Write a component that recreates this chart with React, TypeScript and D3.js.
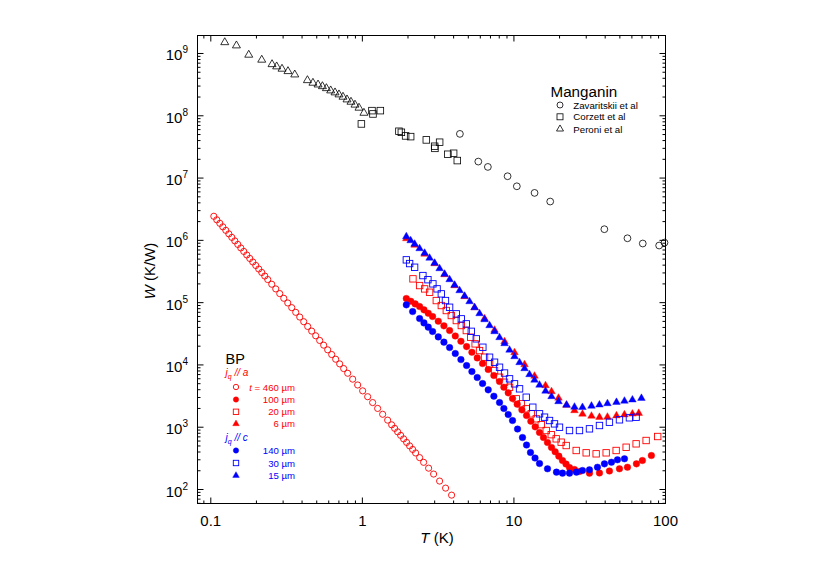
import React from "react";
import * as d3 from "d3";

const FONT = "'Liberation Sans', Arial, Helvetica, sans-serif";
const RED = "#ff0000";
const BLUE = "#0000ff";

// ---- axes ----
const xDomain = [0.0817, 100];
const yDomain = [59.6, 1.945e9];
const xTickValues = [0.1, 1, 10, 100];
const xTickLabels = ["0.1", "1", "10", "100"];
const yTickExponents = [2, 3, 4, 5, 6, 7, 8, 9];

// ---- Manganin ----
const zavT = [4.40, 5.82, 6.73, 9.08, 10.45, 13.68, 17.35, 39.5, 56.1, 70.8, 90.8, 98.5];
const zavW = [5.12e7, 1.84e7, 1.51e7, 1.07e7, 7.38e6, 5.78e6, 4.2e6, 1.51e6, 1.08e6, 8.9e5, 8.26e5, 9.2e5];

const corT = [0.985, 1.157, 1.175, 1.314, 1.743, 1.808, 1.929, 2.082, 2.642, 2.998, 3.01, 3.234, 3.667, 4.0, 4.23];
const corW = [7.4e7, 1.21e8, 1.07e8, 1.21e8, 5.64e7, 5.43e7, 4.75e7, 4.63e7, 4.1e7, 3.24e7, 3.0e7, 3.76e7, 2.41e7, 2.5e7, 1.91e7];

const perT = [0.1236, 0.1476, 0.178, 0.2168, 0.2535, 0.272, 0.295, 0.323, 0.358, 0.434, 0.472, 0.51, 0.545, 0.579, 0.618, 0.66, 0.701, 0.745, 0.792, 0.841, 0.894, 0.95, 1.024];
const perW = [1.51e9, 1.34e9, 9.5e8, 7.9e8, 6.7e8, 6.17e8, 5.66e8, 5.18e8, 4.58e8, 3.71e8, 3.37e8, 3.16e8, 2.97e8, 2.76e8, 2.54e8, 2.36e8, 2.19e8, 2.01e8, 1.82e8, 1.67e8, 1.5e8, 1.34e8, 1.11e8];

// ---- BP, jq // a ----
const a460T = [0.1047, 0.1095, 0.1147, 0.12, 0.1256, 0.1315, 0.1376, 0.144, 0.1507, 0.1577, 0.165, 0.1727, 0.1808, 0.1892, 0.198, 0.2072, 0.2169, 0.227, 0.2375, 0.2524, 0.2683, 0.285, 0.303, 0.3219, 0.342, 0.3634, 0.3862, 0.4103, 0.4358, 0.4631, 0.4921, 0.5229, 0.5556, 0.5904, 0.6275, 0.6668, 0.7085, 0.7528, 0.8001, 0.8631, 0.9312, 1.0046, 1.0837, 1.169, 1.261, 1.361, 1.468, 1.561, 1.633, 1.709, 1.789, 1.872, 1.959, 2.05, 2.146, 2.246, 2.386, 2.536, 2.736, 2.951, 3.233, 3.541, 3.879];
const a460W = [2.436e6, 2.139e6, 1.878e6, 1.65e6, 1.449e6, 1.272e6, 1.117e6, 9.81e5, 8.61e5, 7.56e5, 6.64e5, 5.83e5, 5.12e5, 4.5e5, 3.95e5, 3.47e5, 3.05e5, 2.675e5, 2.349e5, 1.975e5, 1.661e5, 1.397e5, 1.175e5, 9.88e4, 8.31e4, 6.99e4, 5.87e4, 4.94e4, 4.15e4, 3.493e4, 2.937e4, 2.47e4, 2.077e4, 1.747e4, 1.469e4, 1.235e4, 1.039e4, 8740, 7350, 5914, 4764, 3835, 3089, 2487, 2003, 1613, 1299, 1092, 959, 842, 740, 649, 570, 501, 440, 386, 325, 273, 220, 177, 136.6, 105.3, 81.2];

const a100T = [1.95, 2.086, 2.231, 2.386, 2.549, 2.721, 2.906, 3.168, 3.452, 3.763, 4.102, 4.469, 4.871, 5.281, 5.727, 6.209, 6.766, 7.373, 8.035, 8.582, 9.167, 9.79, 10.51, 11.28, 12.11, 12.93, 13.81, 14.75, 15.67, 16.65, 17.7, 18.71, 19.78, 20.91, 22.06, 23.26, 25.09, 27.07, 31.5, 36.67, 42.67, 49.69, 56.1, 64.3, 70.4, 80.7];
const a100W = [1.164e5, 1.054e5, 9.55e4, 8.65e4, 7.66e4, 6.76e4, 5.98e4, 5.04e4, 4.24e4, 3.565e4, 2.92e4, 2.4e4, 1.97e4, 1.6e4, 1.297e4, 1.052e4, 8430, 6760, 5410, 4390, 3565, 2890, 2344, 1900, 1541, 1250, 1014, 822, 682, 568, 472, 403, 343, 292, 256, 225, 209, 195, 183, 184, 198, 215, 228, 258, 292, 351];

const a20T = [2.157, 2.386, 2.575, 2.777, 3.074, 3.318, 3.579, 3.862, 4.167, 4.495, 4.85, 5.186, 5.546, 5.93, 6.4, 6.906, 7.45, 8.035, 8.67, 9.354, 10.36, 11.17, 12.05, 13.0, 14.03, 15.14, 16.33, 17.62, 19.0, 20.5, 22.12, 25.75, 29.97, 34.87, 40.6, 47.25, 55.0, 64.0, 74.5, 88.85];
const a20W = [2.41e5, 1.88e5, 1.662e5, 1.469e5, 1.08e5, 8.98e4, 7.47e4, 6.21e4, 5.16e4, 4.29e4, 3.565e4, 2.786e4, 2.178e4, 1.7e4, 1.331e4, 1.041e4, 8130, 6345, 5277, 4385, 2856, 2375, 1974, 1641, 1364, 1099, 885, 759, 651, 575, 508, 423, 388, 374, 388, 423, 477, 541, 612, 709];

const a6T = [1.95, 2.212, 2.575, 2.997, 3.487, 4.059, 4.725, 5.5, 6.4, 7.45, 8.67, 10.09, 11.75, 13.67, 16.16, 17.7, 19.68, 22.23, 25.09, 28.33, 32.48, 36.67, 41.4, 47.48, 53.6, 60.5, 66.6];
const a6W = [1.069e6, 8.4e5, 6.026e5, 4.241e5, 2.825e5, 1.881e5, 1.253e5, 8.34e4, 5.555e4, 3.632e4, 2.374e4, 1.581e4, 1.015e4, 6633, 4670, 3741, 2942, 2272, 1854, 1629, 1512, 1447, 1458, 1530, 1587, 1635, 1678];

// ---- BP, jq // c ----
const c140T = [1.95, 2.146, 2.386, 2.549, 2.721, 2.906, 3.168, 3.452, 3.763, 4.102, 4.469, 4.871, 5.281, 5.727, 6.209, 6.766, 7.373, 8.035, 8.582, 9.167, 9.79, 10.56, 11.39, 12.11, 12.86, 13.78, 14.75, 16.65, 19.09, 20.91, 23.26, 25.86, 28.33, 31.5, 35.57, 39.55, 44.0, 48.2, 53.6];
const c140W = [9.22e4, 7.19e4, 5.55e4, 4.73e4, 4.04e4, 3.44e4, 2.82e4, 2.32e4, 1.9e4, 1.524e4, 1.219e4, 9770, 7830, 6280, 5030, 3980, 3150, 2490, 2000, 1600, 1280, 935, 683, 518, 393, 320, 261, 215, 190, 183, 183, 190, 202, 207, 228, 258, 274, 300, 311];

const c30T = [1.95, 2.05, 2.212, 2.509, 2.707, 2.92, 3.112, 3.318, 3.533, 3.763, 4.167, 4.495, 4.85, 5.231, 5.642, 6.237, 6.906, 7.45, 8.035, 8.67, 9.354, 10.09, 10.89, 12.05, 13.32, 14.75, 15.92, 17.17, 18.52, 19.98, 23.26, 27.07, 31.5, 36.67, 42.67, 49.69, 57.8, 64.0];
const c30W = [4.864e5, 4.24e5, 3.7e5, 2.72e5, 2.335e5, 2.003e5, 1.665e5, 1.384e5, 1.08e5, 8.43e4, 6.61e4, 5.495e4, 4.567e4, 3.462e4, 2.623e4, 1.923e4, 1.329e4, 1.105e4, 9180, 7410, 5980, 4973, 4133, 3030, 2094, 1641, 1450, 1281, 1132, 1000, 885, 885, 942, 1065, 1203, 1315, 1416, 1447];

const c15T = [1.95, 2.082, 2.212, 2.386, 2.575, 2.777, 2.997, 3.233, 3.487, 3.763, 4.059, 4.38, 4.725, 5.097, 5.5, 5.932, 6.4, 6.907, 7.45, 8.035, 8.67, 9.354, 10.09, 10.89, 11.75, 12.67, 13.67, 14.75, 16.16, 17.7, 19.68, 22.23, 25.09, 28.33, 32.48, 36.67, 41.4, 47.48, 53.6, 60.5, 69.37];
const c15W = [1.151e6, 9.92e5, 8.72e5, 7.385e5, 6.252e5, 5.197e5, 4.321e5, 3.527e5, 2.877e5, 2.348e5, 1.916e5, 1.564e5, 1.276e5, 1.041e5, 8.34e4, 6.683e4, 5.354e4, 4.29e4, 3.437e4, 2.754e4, 2.205e4, 1.734e4, 1.364e4, 1.093e4, 8750, 7015, 5722, 4757, 3811, 3110, 2585, 2272, 2110, 2086, 2190, 2288, 2401, 2519, 2633, 2754, 2921];

// legend labels
const manganinLabels = ["Zavaritskii et al", "Corzett et al", "Peroni et al"];
const aLabels = ["460 µm", "100 µm", "20 µm", "6 µm"];
const cLabels = ["140 µm", "30 µm", "15 µm"];

type Kind = "circle" | "square" | "triangle";

const zip = (ts: number[], ws: number[]) =>
  ts.map((t, i) => ({ t, w: ws[i] })).filter((d) => d.w !== undefined);

function Marker({ kind, x, y, size, fill, stroke, sw }: any) {
  if (kind === "circle") {
    return <circle cx={x} cy={y} r={size / 2} fill={fill} stroke={stroke} strokeWidth={sw} />;
  }
  if (kind === "square") {
    return (
      <rect x={x - size / 2} y={y - size / 2} width={size} height={size} fill={fill} stroke={stroke} strokeWidth={sw} />
    );
  }
  const h = (size * Math.sqrt(3)) / 2;
  const d = `M${x},${y - (2 * h) / 3}L${x - size / 2},${y + h / 3}L${x + size / 2},${y + h / 3}Z`;
  return <path d={d} fill={fill} stroke={stroke} strokeWidth={sw} strokeLinejoin="miter" />;
}

export default function App() {
  const left = 197.5, right = 665.5, top = 35.5, bottom = 503.5;
  const x = d3.scaleLog().domain(xDomain).range([left, right]);
  const y = d3.scaleLog().domain(yDomain).range([bottom, top]);

  const manganin = [
    { kind: "circle" as Kind, data: zip(zavT, zavW), size: 6.8 },
    { kind: "square" as Kind, data: zip(corT, corW), size: 6.6 },
    { kind: "triangle" as Kind, data: zip(perT, perW), size: 8 },
  ];

  const bp = [
    { kind: "circle" as Kind, data: zip(a460T, a460W), color: RED, filled: false, size: 6.2 },
    { kind: "circle" as Kind, data: zip(a100T, a100W), color: RED, filled: true, size: 6.6 },
    { kind: "square" as Kind, data: zip(a20T, a20W), color: RED, filled: false, size: 6.4 },
    { kind: "triangle" as Kind, data: zip(a6T, a6W), color: RED, filled: true, size: 7.6 },
    { kind: "circle" as Kind, data: zip(c140T, c140W), color: BLUE, filled: true, size: 6.6 },
    { kind: "square" as Kind, data: zip(c30T, c30W), color: BLUE, filled: false, size: 6.4 },
    { kind: "triangle" as Kind, data: zip(c15T, c15W), color: BLUE, filled: true, size: 7.6 },
  ];

  // ticks
  const xMinor: number[] = [];
  for (let e = -2; e <= 2; e++)
    for (let k = 2; k <= 9; k++) {
      const v = k * Math.pow(10, e);
      if (v >= xDomain[0] && v <= xDomain[1]) xMinor.push(v);
    }
  const yMinor: number[] = [];
  for (let e = 1; e <= 9; e++)
    for (let k = 2; k <= 9; k++) {
      const v = k * Math.pow(10, e);
      if (v >= yDomain[0] && v <= yDomain[1]) yMinor.push(v);
    }
  const yMajor = yTickExponents.map((e) => Math.pow(10, e));

  const majorLen = 6, minorLen = 3;

  const legendA = [
    { kind: "circle" as Kind, filled: false },
    { kind: "circle" as Kind, filled: true },
    { kind: "square" as Kind, filled: false },
    { kind: "triangle" as Kind, filled: true },
  ];
  const legendC = [
    { kind: "circle" as Kind, filled: true },
    { kind: "square" as Kind, filled: false },
    { kind: "triangle" as Kind, filled: true },
  ];
  const rowA = [387, 399.5, 411.8, 423.8];
  const rowC = [450.5, 463, 475.5];
  const manRows = [105, 116.8, 129];

  return (
    <div style={{ position: "absolute", left: 0, top: 0 }}>
      <svg width={817} height={578} style={{ display: "block", background: "#fff" }} fontFamily={FONT}>
        {/* Manganin data */}
        {manganin.map((s, si) => (
          <g key={"m" + si}>
            {s.data.map((d, i) => (
              <Marker key={i} kind={s.kind} x={x(d.t)} y={y(d.w)} size={s.size} fill="none" stroke="#000" sw={0.8} />
            ))}
          </g>
        ))}
        {/* BP data */}
        {bp.map((s, si) => (
          <g key={"b" + si}>
            {s.data.map((d, i) => (
              <Marker
                key={i}
                kind={s.kind}
                x={x(d.t)}
                y={y(d.w)}
                size={s.size}
                fill={s.filled ? s.color : "none"}
                stroke={s.color}
                sw={s.filled ? 0.4 : 0.9}
              />
            ))}
          </g>
        ))}

        {/* frame */}
        <rect x={left} y={top} width={right - left} height={bottom - top} fill="none" stroke="#000" strokeWidth={1} />

        {/* x ticks */}
        {xTickValues.map((v) => (
          <g key={"xt" + v}>
            <line x1={x(v)} x2={x(v)} y1={bottom} y2={bottom - majorLen} stroke="#000" />
            <line x1={x(v)} x2={x(v)} y1={top} y2={top + majorLen} stroke="#000" />
          </g>
        ))}
        {xMinor.map((v) => (
          <g key={"xm" + v}>
            <line x1={x(v)} x2={x(v)} y1={bottom} y2={bottom - minorLen} stroke="#000" />
            <line x1={x(v)} x2={x(v)} y1={top} y2={top + minorLen} stroke="#000" />
          </g>
        ))}
        {xTickValues.map((v, i) => (
          <text key={"xl" + v} x={x(v)} y={526} textAnchor="middle" fontSize={15} fill="#000">
            {xTickLabels[i]}
          </text>
        ))}

        {/* y ticks */}
        {yMajor.map((v) => (
          <g key={"yt" + v}>
            <line x1={left} x2={left + majorLen} y1={y(v)} y2={y(v)} stroke="#000" />
            <line x1={right} x2={right - majorLen} y1={y(v)} y2={y(v)} stroke="#000" />
          </g>
        ))}
        {yMinor.map((v) => (
          <g key={"ym" + v}>
            <line x1={left} x2={left + minorLen} y1={y(v)} y2={y(v)} stroke="#000" />
            <line x1={right} x2={right - minorLen} y1={y(v)} y2={y(v)} stroke="#000" />
          </g>
        ))}
        {yTickExponents.map((e) => (
          <text key={"yl" + e} x={188} y={y(Math.pow(10, e)) + 7} textAnchor="end" fontSize={15} fill="#000">
            <tspan>10</tspan>
            <tspan dy={-7} fontSize={10}>
              {e}
            </tspan>
          </text>
        ))}

        {/* axis titles */}
        <text x={437} y={543} textAnchor="middle" fontSize={15} fill="#000">
          <tspan fontStyle="italic">T</tspan>
          <tspan> (K)</tspan>
        </text>
        <text transform="translate(155,271) rotate(-90)" textAnchor="middle" fontSize={15} fill="#000">
          <tspan fontStyle="italic">W</tspan>
          <tspan> (K/W)</tspan>
        </text>

        {/* Manganin legend */}
        <text x={550.5} y={97} fontSize={15.2} fill="#000">
          Manganin
        </text>
        {manganin.map((s, i) => (
          <g key={"ml" + i}>
            <Marker kind={s.kind} x={560} y={manRows[i]} size={s.kind === "triangle" ? 7 : 6} fill="none" stroke="#000" sw={0.8} />
            <text x={573.3} y={manRows[i] + 3.5} fontSize={9.7} fill="#000">
              {manganinLabels[i]}
            </text>
          </g>
        ))}

        {/* BP legend */}
        <text x={225.5} y={363.5} fontSize={14.5} fill="#000">
          BP
        </text>
        <text x={225.5} y={375.5} fontSize={10} fill={RED} fontStyle="italic">
          <tspan>j</tspan>
          <tspan dy={3} fontSize={7}>q</tspan>
          <tspan dy={-3}> // a</tspan>
        </text>
        {legendA.map((m, i) => (
          <g key={"la" + i}>
            <Marker kind={m.kind} x={236} y={rowA[i]} size={m.kind === "triangle" ? 6.6 : 5.4} fill={m.filled ? RED : "none"} stroke={RED} sw={m.filled ? 0.4 : 0.9} />
            <text x={295} y={rowA[i] + 3.5} textAnchor="end" fontSize={9.6} fill={RED}>
              {i === 0 ? (
                <>
                  <tspan fontStyle="italic">t</tspan>
                  <tspan> = {aLabels[i]}</tspan>
                </>
              ) : (
                aLabels[i]
              )}
            </text>
          </g>
        ))}
        <text x={225.5} y={440.5} fontSize={10} fill={BLUE} fontStyle="italic">
          <tspan>j</tspan>
          <tspan dy={3} fontSize={7}>q</tspan>
          <tspan dy={-3}> // c</tspan>
        </text>
        {legendC.map((m, i) => (
          <g key={"lc" + i}>
            <Marker kind={m.kind} x={236} y={rowC[i]} size={m.kind === "triangle" ? 6.6 : 5.4} fill={m.filled ? BLUE : "none"} stroke={BLUE} sw={m.filled ? 0.4 : 0.9} />
            <text x={295} y={rowC[i] + 3.5} textAnchor="end" fontSize={9.6} fill={BLUE}>
              {cLabels[i]}
            </text>
          </g>
        ))}
      </svg>
    </div>
  );
}
